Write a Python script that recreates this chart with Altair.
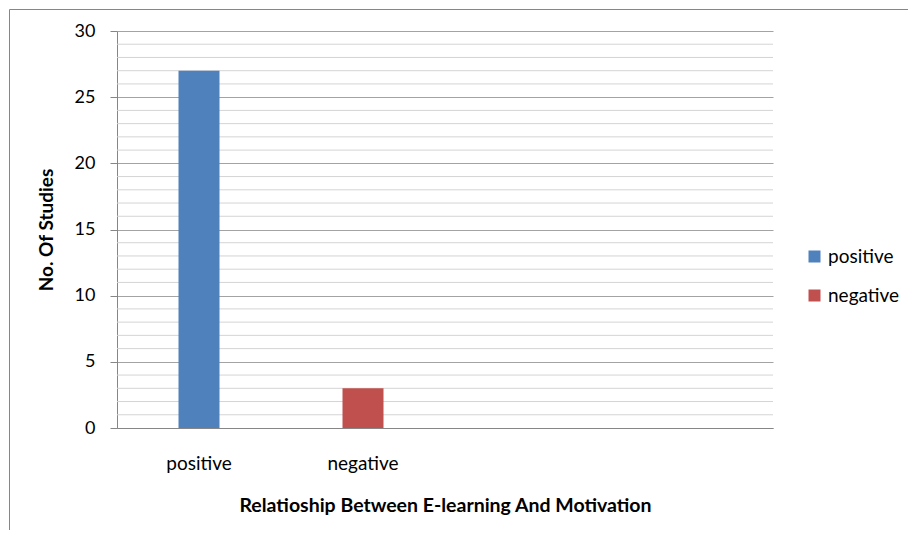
import altair as alt
import pandas as pd

# category slots on the x axis (Excel-style chart with 4 slots, 2 used)
slots = ["positive", "negative", "slot3", "slot4"]
labels = ["positive", "negative"]
counts = [27, 3]
colors = ["#4F81BD", "#C0504D"]
major_ticks = [0, 5, 10, 15, 20, 25, 30]
minor_grid = [1, 2, 3, 4, 6, 7, 8, 9, 11, 12, 13, 14, 16, 17, 18, 19,
              21, 22, 23, 24, 26, 27, 28, 29]

FONT = "Lato"
W, H = 656, 397

bars_df = pd.DataFrame({"relation": labels, "studies": counts})
minor_df = pd.DataFrame({"studies": minor_grid})

yscale = alt.Scale(domain=[0, 30], nice=False)
yaxis = alt.Axis(
    title="No. Of Studies",
    values=major_ticks,
    grid=True,
    gridColor="#a3a3a3",
    domainColor="#868686",
    tickColor="#868686",
    tickSize=7,
    labelFontSize=18,
    labelColor="#000000",
    labelPadding=15,
    titleFontSize=19,
    titleFontWeight="bold",
    titleColor="#000000",
    titlePadding=18,
)

border = alt.Chart(pd.DataFrame({"a": [0]})).mark_rect(
    fill="white", fillOpacity=0, stroke="#868686", strokeWidth=1
).encode(
    x=alt.value(-107.5), x2=alt.value(900), y=alt.value(-21.5), y2=alt.value(600)
)

minor = alt.Chart(minor_df).mark_rule(color="#d4d4d4", strokeWidth=1).encode(
    y=alt.Y("studies:Q", scale=yscale, axis=yaxis)
)

bars = alt.Chart(bars_df).mark_bar().encode(
    x=alt.X(
        "relation:N",
        scale=alt.Scale(domain=slots, paddingInner=0.75, paddingOuter=0.375),
        axis=alt.Axis(
            title="Relatioship Between E-learning And Motivation",
            labelExpr="(datum.value == 'positive' || datum.value == 'negative') ? datum.value : ''",
            labelAngle=0,
            ticks=False,
            domainColor="#868686",
            labelFontSize=19,
            labelColor="#000000",
            labelPadding=26,
            titleFontSize=19.5,
            titleFontWeight="bold",
            titleColor="#000000",
            titlePadding=23,
            grid=False,
        ),
    ),
    y=alt.Y("studies:Q", scale=yscale, axis=yaxis),
    color=alt.Color(
        "relation:N",
        scale=alt.Scale(domain=labels, range=colors),
        legend=alt.Legend(
            title=None,
            orient="none",
            legendX=688,
            legendY=216,
            symbolType="square",
            symbolSize=144,
            symbolStrokeWidth=0,
            labelFontSize=19,
            labelColor="#000000",
            rowPadding=19,
            labelOffset=4,
        ),
    ),
)

chart = alt.layer(border, minor, bars).properties(
    width=W,
    height=H,
    autosize=alt.AutoSizeParams(type="none"),
    padding={"left": 109, "top": 23, "right": 135, "bottom": 102},
    background="white",
).configure(font=FONT).configure_view(stroke=None)

chart.save("out.html", embed_options={"renderer": "svg", "actions": False})
